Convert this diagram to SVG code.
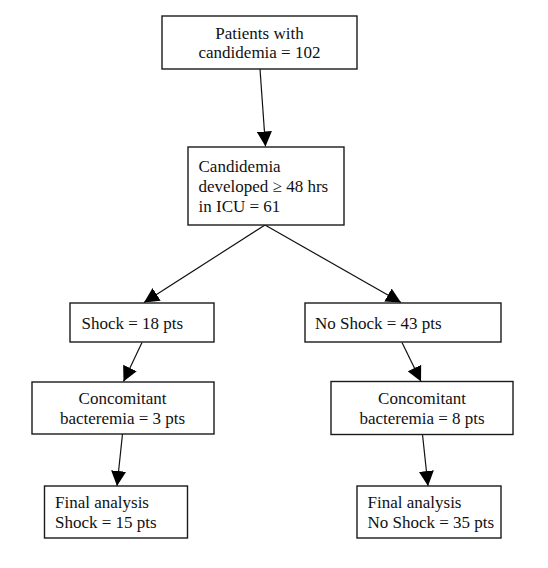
<svg xmlns="http://www.w3.org/2000/svg" width="548" height="568" viewBox="0 0 548 568">
<style>
.box{fill:#fff;stroke:#1a1a1a;stroke-width:1.4}
.t{font-family:"Liberation Serif","Times New Roman",serif;font-size:17px;fill:#111}
.c{text-anchor:middle}
.e{stroke:#111;stroke-width:1.2;fill:none;marker-end:url(#ah)}
</style>
<defs>
<marker id="ah" markerUnits="userSpaceOnUse" markerWidth="15" markerHeight="15" refX="15" refY="7.5" orient="auto" viewBox="0 0 15 15">
<path d="M0,0 L15,7.5 L0,15 z" fill="#000"/>
</marker>
</defs>
<rect width="548" height="568" fill="#fff"/>
<g id="connectors">
<line class="e" x1="260" y1="69" x2="265.5" y2="146.5"/>
<line class="e" x1="265" y1="225" x2="144" y2="302.5"/>
<line class="e" x1="265" y1="225" x2="401" y2="302.5"/>
<line class="e" x1="142" y1="342.5" x2="123.5" y2="381.5"/>
<line class="e" x1="402" y1="342.5" x2="421" y2="381.5"/>
<line class="e" x1="122.5" y1="434" x2="117" y2="486"/>
<line class="e" x1="422.5" y1="434.5" x2="428" y2="486"/>
</g>
<g id="n1">
<rect class="box" x="162" y="16" width="195" height="53"/>
<text class="t c" x="259.5" y="39">Patients with</text>
<text class="t c" x="259.5" y="58">candidemia = 102</text>
</g>
<g id="n2">
<rect class="box" x="188" y="147" width="156" height="78"/>
<text class="t" x="198.5" y="171.5">Candidemia</text>
<text class="t" x="198.5" y="191.5">developed ≥ 48 hrs</text>
<text class="t" x="198.5" y="211.5">in ICU = 61</text>
</g>
<g id="n3">
<rect class="box" x="70" y="303" width="144" height="39"/>
<text class="t" x="81.5" y="329">Shock = 18 pts</text>
</g>
<g id="n4">
<rect class="box" x="305" y="303" width="196" height="39"/>
<text class="t" x="315" y="329">No Shock = 43 pts</text>
</g>
<g id="n5">
<rect class="box" x="32" y="382" width="182" height="52"/>
<text class="t c" x="122.5" y="403.5">Concomitant</text>
<text class="t c" x="122.5" y="423.5">bacteremia = 3 pts</text>
</g>
<g id="n6">
<rect class="box" x="331" y="381.5" width="182" height="53"/>
<text class="t c" x="422" y="403.5">Concomitant</text>
<text class="t c" x="422" y="423.5">bacteremia = 8 pts</text>
</g>
<g id="n7">
<rect class="box" x="44.5" y="486" width="143" height="52"/>
<text class="t" x="55" y="507.5">Final analysis</text>
<text class="t" x="55" y="527.5">Shock = 15 pts</text>
</g>
<g id="n8">
<rect class="box" x="357" y="486" width="144" height="52"/>
<text class="t" x="367.5" y="507.5">Final analysis</text>
<text class="t" x="367.5" y="527.5">No Shock = 35 pts</text>
</g>
</svg>
